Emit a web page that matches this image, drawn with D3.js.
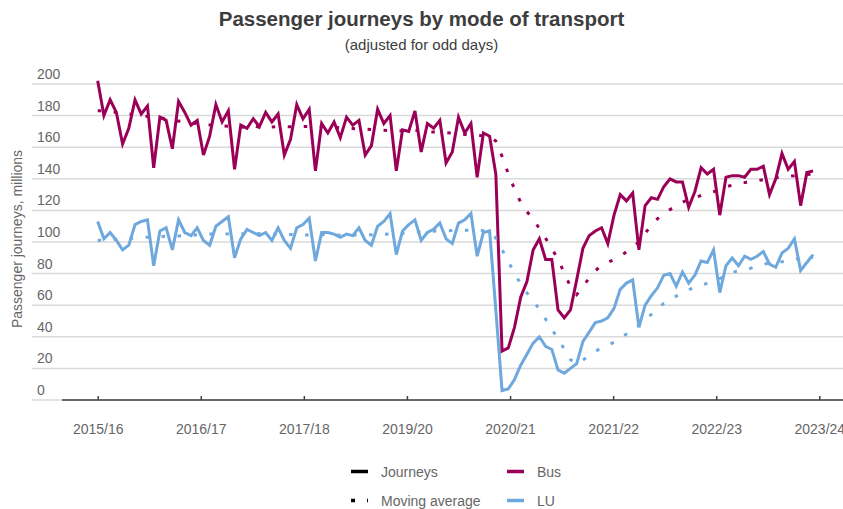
<!DOCTYPE html>
<html lang="en">
<head>
  <meta charset="UTF-8">
  <title>Passenger journeys by mode of transport</title>
  <style>
    body { margin: 0; background: #fff; }
    svg { display: block; font-family: "Liberation Sans", Arial, sans-serif; }
  </style>
</head>
<body>
  <div id="chart"></div>

  <script src="https://d3js.org/d3.v7.min.js"></script>
  <script>

    // 4-weekly periods from 2015/16 P1, millions of journeys
    const bus = [202, 180, 190, 182, 162, 172, 190, 181, 186, 147, 179, 177, 159,
                 189, 182, 174, 177, 155, 167, 187, 176, 183, 146, 174, 172, 178,
                 173, 182, 176, 181, 155, 165, 187, 178, 184, 145, 175, 169, 176,
                 166, 179, 174, 177, 155, 161, 184, 175, 180, 145, 171, 170, 183,
                 157, 175, 172, 177, 150, 157, 179, 169, 175, 141, 169, 167, 143,
                 31, 33, 46, 65, 75, 95, 102, 89, 89, 57, 52, 57, 76,
                 96, 104, 107, 109, 99, 117, 130, 126, 131, 95, 123, 128, 127,
                 135, 140, 138, 138, 122, 132, 147, 143, 146, 117, 141, 142, 142,
                 141, 146, 146, 148, 130, 140, 156, 146, 151, 123, 144, 145];

    const busAvg = [183, 183, 182.5, 182, 181.5, 181, 180.5, 180, 179.5, 179, 178.5, 178, 177.5,
                    176.5, 176.6, 175.4, 175, 174.5, 174.1, 173.8, 173.5, 173.2, 173.2, 172.8, 172.4, 173.8,
                    172.6, 172.6, 172.8, 173.1, 173.1, 172.9, 172.9, 173.1, 173.2, 173.1, 173.2, 172.9, 172.8,
                    172.2, 172, 171.8, 171.5, 171.5, 171.2, 171, 170.8, 170.5, 170.5, 170.2, 170.2, 170.8,
                    170.1, 169.8, 169.6, 169.6, 169.2, 168.9, 168.5, 168.1, 167.7, 167.4, 167.2, 167, 163.9,
                    154.2, 143.3, 133.6, 125, 119.2, 114.5, 108.5, 102.4, 95.8, 89.3, 80.3, 71.8, 66.7,
                    71.7, 77.2, 81.8, 85.2, 87.1, 88.8, 90.9, 93.8, 97, 99.9, 105.4, 110.8, 114.8,
                    117.8, 120.5, 122.9, 125.2, 126.9, 128.1, 129.4, 130.7, 131.8, 133.5, 134.9, 136, 137.2,
                    137.6, 138.1, 138.7, 139.5, 140.1, 140.7, 141.4, 141.6, 142, 142.5, 142.7, 142.9];

    const lu = [113, 102, 106, 101, 95, 98, 111, 113, 114, 85, 107, 109, 95,
                114, 106, 104, 109, 101, 98, 110, 113, 116, 90, 102, 108, 106,
                104, 106, 101, 109, 101, 96, 109, 111, 115, 88, 106, 106, 105,
                103, 105, 104, 109, 101, 98, 110, 113, 118, 92, 107, 111, 114,
                101, 106, 108, 112, 102, 99, 112, 114, 118, 91, 106, 107, 57,
                6, 7, 13, 22, 29, 36, 40, 34, 32, 19, 17, 20, 23,
                37, 43, 49, 50, 52, 58, 70, 74, 76, 46, 60, 66, 71,
                79, 80, 72, 81, 74, 79, 88, 87, 95, 68, 85, 90, 85,
                91, 89, 91, 94, 86, 84, 93, 96, 102, 82, 87, 92];

    const luAvg = [101, 101.2, 101.5, 101.7, 102, 102.2, 102.5, 102.8, 103, 103.2, 103.4, 103.6, 103.8,
                   103.8, 104.2, 104, 104.6, 105.1, 105.1, 105, 105, 105.2, 105.5, 105.2, 105.1, 105.9,
                   105.2, 105.2, 104.9, 104.9, 104.9, 104.8, 104.7, 104.5, 104.5, 104.3, 104.6, 104.5, 104.4,
                   104.3, 104.2, 104.5, 104.5, 104.5, 104.6, 104.7, 104.8, 105.1, 105.4, 105.5, 105.8, 106.5,
                   106.4, 106.5, 106.8, 107, 107.1, 107.2, 107.3, 107.4, 107.4, 107.3, 107.2, 106.9, 102.5,
                   95.2, 87.6, 80.3, 73.4, 67.8, 62.9, 57.4, 51.2, 44.6, 39.1, 32.2, 25.5, 22.9,
                   25.3, 28.1, 30.8, 33, 34.8, 36.5, 38.8, 41.8, 45.2, 47.3, 50.6, 54.2, 57.8,
                   61.1, 63.9, 65.7, 68.1, 69.8, 71.4, 72.8, 73.8, 75.2, 76.9, 78.8, 80.7, 81.8,
                   82.7, 83.4, 84.8, 85.8, 86.8, 87.2, 87.5, 88.2, 88.8, 89.8, 90, 90.2];

    const yTicks = [0, 20, 40, 60, 80, 100, 120, 140, 160, 180, 200];
    const xTickLabels = ["2015/16", "2016/17", "2017/18", "2019/20", "2020/21", "2021/22", "2022/23", "2023/24"];
    const xTickAt = [0, 16.57, 33.14, 49.71, 66.29, 82.86, 99.43, 116];   // in periods

    const width = 843,
          height = 509,
          margin = {top: 84, right: 0, bottom: 109, left: 62};

    const busColor = "#9b0058",
          luColor = "#6ea8dd",
          textColor = "#666";

    const svg = d3.select("#chart")
      .append("svg")
      .attr("width", width)
      .attr("height", height)
      .attr("viewBox", [0, 0, width, height]);

    const x = d3.scaleLinear([0, 116], [97.7, 819.3]);
    const y = d3.scaleLinear([0, 200], [height - margin.bottom, margin.top]);

    // gridlines + y labels
    svg.append("g")
      .selectAll("line")
      .data(yTicks)
      .join("line")
      .attr("x1", 32)
      .attr("x2", width)
      .attr("y1", d => y(d))
      .attr("y2", d => y(d))
      .attr("stroke", "#d9d9d9")
      .attr("stroke-width", 1.5);

    svg.append("g")
      .selectAll("text")
      .data(yTicks)
      .join("text")
      .attr("x", 37)
      .attr("y", d => y(d) - 5)
      .attr("fill", textColor)
      .style("font-size", "14px")
      .text(d => d);

    // x axis
    const xAxis = svg.append("g")
      .attr("transform", `translate(0,${y(0)})`)
      .call(d3.axisBottom(x)
        .tickValues(xTickAt)
        .tickFormat((d, i) => xTickLabels[i])
        .tickSizeInner(-4)
        .tickSizeOuter(0)
        .tickPadding(24));

    xAxis.select(".domain").remove();
    xAxis.selectAll(".tick line").attr("stroke", "#404040").attr("stroke-width", 1.5);
    xAxis.selectAll(".tick text")
      .attr("fill", textColor)
      .style("font-size", "14px")
      .style("font-family", "Liberation Sans, Arial, sans-serif");

    xAxis.append("line")
      .attr("x1", margin.left)
      .attr("x2", width)
      .attr("stroke", "#404040")
      .attr("stroke-width", 1.5);

    // lines
    const line = d3.line()
      .x((d, i) => x(i))
      .y(d => y(d));

    const series = [
      {values: lu, color: luColor, dash: null},
      {values: bus, color: busColor, dash: null},
      {values: luAvg, color: luColor, dash: "3.5,12.5"},
      {values: busAvg, color: busColor, dash: "3.5,12.5"}
    ];

    svg.append("g")
      .selectAll("path")
      .data(series)
      .join("path")
      .attr("d", d => line(d.values))
      .attr("fill", "none")
      .attr("stroke", d => d.color)
      .attr("stroke-width", 3)
      .attr("stroke-dasharray", d => d.dash);

    // titles
    svg.append("text")
      .attr("x", width / 2)
      .attr("y", 26)
      .style("text-anchor", "middle")
      .style("font-size", "20.5px")
      .style("font-weight", "bold")
      .attr("fill", "#3d3d3d")
      .text("Passenger journeys by mode of transport");

    svg.append("text")
      .attr("x", width / 2)
      .attr("y", 50)
      .style("text-anchor", "middle")
      .style("font-size", "15px")
      .attr("fill", "#3d3d3d")
      .text("(adjusted for odd days)");

    svg.append("text")
      .attr("transform", "rotate(-90)")
      .attr("x", -239)
      .attr("y", 22)
      .style("text-anchor", "middle")
      .style("font-size", "14px")
      .attr("fill", textColor)
      .text("Passenger journeys, millions");

    // legend
    const legendItems = [
      {label: "Journeys", color: "#000", dash: null, col: 0, row: 0},
      {label: "Moving average", color: "#000", dash: "4,12", col: 0, row: 1},
      {label: "Bus", color: busColor, dash: null, col: 1, row: 0},
      {label: "LU", color: luColor, dash: null, col: 1, row: 1}
    ];

    const legendGroup = svg.selectAll(".legend-group")
      .data(legendItems)
      .join("g")
      .attr("class", "legend-group")
      .attr("transform", d => `translate(${351 + d.col * 156},${471.5 + d.row * 29})`);

    legendGroup.append("line")
      .attr("x1", 0)
      .attr("x2", 17)
      .attr("stroke", d => d.color)
      .attr("stroke-width", 3.5)
      .attr("stroke-dasharray", d => d.dash);

    legendGroup.append("text")
      .attr("x", 30)
      .attr("y", 5)
      .attr("fill", textColor)
      .style("font-size", "14px")
      .text(d => d.label);

  </script>
</body>
</html>
